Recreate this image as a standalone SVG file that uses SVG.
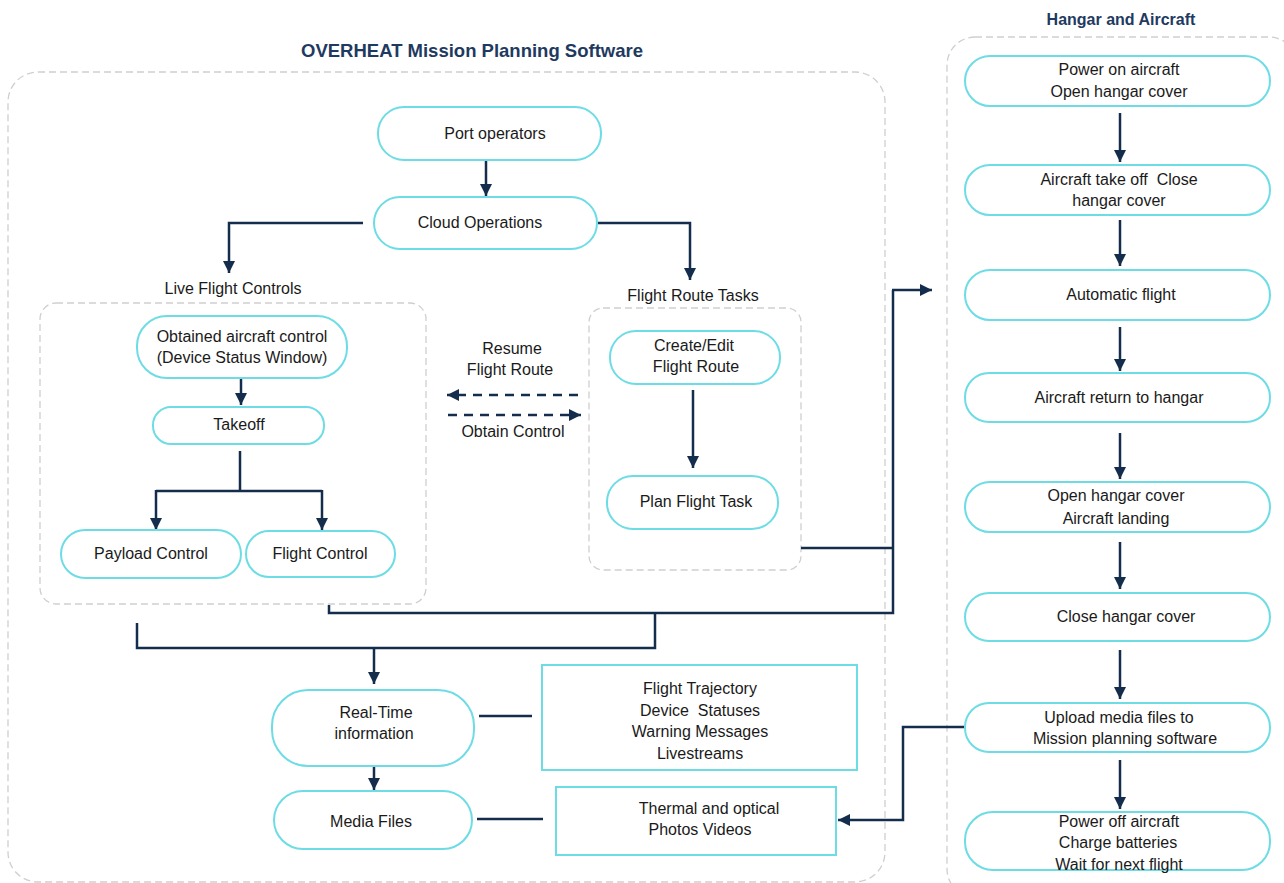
<svg xmlns="http://www.w3.org/2000/svg" width="1284" height="883" viewBox="0 0 1284 883">
<defs>
<marker id="ah" viewBox="0 0 10 10" refX="10" refY="5" markerWidth="12" markerHeight="12" markerUnits="userSpaceOnUse" orient="auto"><path d="M0,0 L10,5 L0,10 z" fill="#142d4c"/></marker>
<style>
.t{font-family:"Liberation Sans",Arial,sans-serif;font-size:16px;fill:#1a1a1a;text-anchor:middle;white-space:pre}
.h{font-family:"Liberation Sans",Arial,sans-serif;font-weight:bold;fill:#1f3a5f;text-anchor:middle}
.pill{fill:#fff;stroke:#6ddce4;stroke-width:2}
.box{fill:#fff;stroke:#6ddce4;stroke-width:2}
.grp{fill:none;stroke:#cfcfcf;stroke-width:1.3;stroke-dasharray:7 4}
.c{fill:none;stroke:#142d4c;stroke-width:2.5}
.ca{fill:none;stroke:#142d4c;stroke-width:2.5;marker-end:url(#ah)}
.cd{fill:none;stroke:#142d4c;stroke-width:2.5;stroke-dasharray:9 7;marker-end:url(#ah)}
</style>
</defs>
<rect width="1284" height="883" fill="#fff"/>

<g id="containers">
<text class="h" x="472" y="57" font-size="18.5">OVERHEAT Mission Planning Software</text>
<rect class="grp" x="8" y="72" width="877" height="810" rx="30"/>
<text class="h" x="1121" y="25" font-size="16">Hangar and Aircraft</text>
<rect class="grp" x="947" y="37" width="350" height="860" rx="28"/>
<text class="t" x="233" y="294">Live Flight Controls</text>
<rect class="grp" x="40" y="303" width="386" height="301" rx="16"/>
<text class="t" x="693" y="301">Flight Route Tasks</text>
<rect class="grp" x="589" y="308" width="212" height="262" rx="14"/>
</g>

<g id="connectors">
<path class="ca" d="M486,160 V196"/>
<path class="ca" d="M363,223 H229 V273"/>
<path class="ca" d="M598,223 H690 V280"/>
<path class="ca" d="M241,379 V405"/>
<path class="c" d="M240,451 V491 M156,491 H322"/>
<path class="ca" d="M156,490 V530"/>
<path class="ca" d="M322,490 V530"/>
<path class="cd" d="M578,395 H447"/>
<path class="cd" d="M448,415 H581"/>
<path class="ca" d="M693,390 V468"/>
<path class="c" d="M801,548 H893"/>
<path class="c" d="M329,605 V613 H893 V290"/>
<path class="ca" d="M892,290 H932"/>
<path class="c" d="M137,623 V648 H655 V613"/>
<path class="ca" d="M374,648 V684"/>
<path class="c" d="M479,716 H532"/>
<path class="ca" d="M374,758 V790"/>
<path class="c" d="M477,819 H543"/>
<path class="ca" d="M965,727 H903 V820 H838"/>
<path class="ca" d="M1120,113 V162"/>
<path class="ca" d="M1120,220 V266"/>
<path class="ca" d="M1120,327 V371"/>
<path class="ca" d="M1120,433 V479"/>
<path class="ca" d="M1120,542 V589"/>
<path class="ca" d="M1120,650 V699"/>
<path class="ca" d="M1120,760 V809"/>
</g>

<g id="edge-labels">
<text class="t" x="512" y="354">Resume</text>
<text class="t" x="510" y="375">Flight Route</text>
<text class="t" x="513" y="437">Obtain Control</text>
</g>

<g id="port-operators"><rect class="pill" x="378" y="107" width="223" height="53" rx="26"/><text class="t" x="495" y="139">Port operators</text></g>
<g id="cloud-operations"><rect class="pill" x="374" y="197" width="223" height="52" rx="26"/><text class="t" x="480" y="228">Cloud Operations</text></g>
<g id="obtained-control"><rect class="pill" x="137" y="316" width="210" height="62" rx="30"/><text class="t" x="242" y="342">Obtained aircraft control</text><text class="t" x="242" y="363">(Device Status Window)</text></g>
<g id="takeoff"><rect class="pill" x="153" y="407" width="171" height="37" rx="18"/><text class="t" x="239" y="430">Takeoff</text></g>
<g id="payload-control"><rect class="pill" x="61" y="530" width="180" height="48" rx="24"/><text class="t" x="151" y="559">Payload Control</text></g>
<g id="flight-control"><rect class="pill" x="246" y="531" width="149" height="46" rx="23"/><text class="t" x="320" y="559">Flight Control</text></g>
<g id="create-edit"><rect class="pill" x="610" y="331" width="170" height="53" rx="26"/><text class="t" x="694" y="351">Create/Edit</text><text class="t" x="696" y="372">Flight Route</text></g>
<g id="plan-task"><rect class="pill" x="607" y="476" width="171" height="53" rx="26"/><text class="t" x="696" y="507">Plan Flight Task</text></g>
<g id="real-time"><rect class="pill" x="272" y="690" width="202" height="76" rx="36"/><text class="t" x="376" y="718">Real-Time</text><text class="t" x="374" y="739">information</text></g>
<g id="rt-details"><rect class="box" x="542" y="665" width="315" height="105"/><text class="t" x="700" y="694">Flight Trajectory</text><text class="t" x="700" y="716">Device  Statuses</text><text class="t" x="700" y="737">Warning Messages</text><text class="t" x="700" y="759">Livestreams</text></g>
<g id="media-files"><rect class="pill" x="274" y="791" width="198" height="58" rx="29"/><text class="t" x="371" y="827">Media Files</text></g>
<g id="media-details"><rect class="box" x="556" y="787" width="280" height="68"/><text class="t" x="709" y="814">Thermal and optical</text><text class="t" x="700" y="835">Photos Videos</text></g>

<g id="h1"><rect class="pill" x="965" y="56" width="305" height="50" rx="25"/><text class="t" x="1119" y="75">Power on aircraft</text><text class="t" x="1119" y="97">Open hangar cover</text></g>
<g id="h2"><rect class="pill" x="965" y="165" width="305" height="50" rx="25"/><text class="t" x="1119" y="185">Aircraft take off  Close</text><text class="t" x="1119" y="206">hangar cover</text></g>
<g id="h3"><rect class="pill" x="965" y="270" width="305" height="50" rx="25"/><text class="t" x="1121" y="300">Automatic flight</text></g>
<g id="h4"><rect class="pill" x="965" y="373" width="305" height="49" rx="24"/><text class="t" x="1119" y="403">Aircraft return to hangar</text></g>
<g id="h5"><rect class="pill" x="965" y="482" width="305" height="50" rx="25"/><text class="t" x="1116" y="501">Open hangar cover</text><text class="t" x="1116" y="524">Aircraft landing</text></g>
<g id="h6"><rect class="pill" x="965" y="593" width="305" height="48" rx="24"/><text class="t" x="1126" y="622">Close hangar cover</text></g>
<g id="h7"><rect class="pill" x="965" y="703" width="305" height="49" rx="24"/><text class="t" x="1119" y="723">Upload media files to</text><text class="t" x="1125" y="744">Mission planning software</text></g>
<g id="h8"><rect class="pill" x="965" y="812" width="305" height="58" rx="28"/><text class="t" x="1119" y="827">Power off aircraft</text><text class="t" x="1118" y="848">Charge batteries</text><text class="t" x="1119" y="870">Wait for next flight</text></g>
</svg>
